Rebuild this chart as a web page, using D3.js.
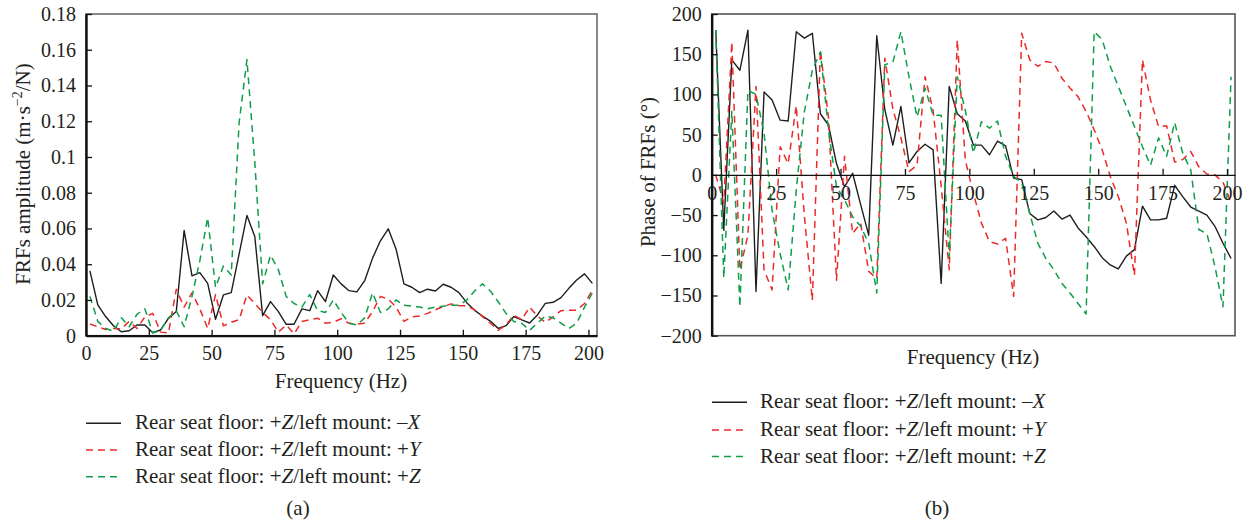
<!DOCTYPE html>
<html>
<head>
<meta charset="utf-8">
<script src="https://cdn.jsdelivr.net/npm/d3@7"></script>
<style>
  body { margin: 0; background: #fff; }
  svg, svg text { font-family: "Liberation Serif", "DejaVu Serif", serif; }
  svg { display: block; }
</style>
</head>
<body>
<svg id="chart" width="1247" height="527" font-family="Liberation Serif, DejaVu Serif, serif"></svg>
<script>
// Frequency lines of the FRF estimate (Hz)
const freqs = [1.5625, 4.6875, 7.8125, 10.9375, 14.0625, 17.1875, 20.3125, 23.4375, 26.5625, 29.6875,
  32.8125, 35.9375, 39.0625, 42.1875, 45.3125, 48.4375, 51.5625, 54.6875, 57.8125, 60.9375,
  64.0625, 67.1875, 70.3125, 73.4375, 76.5625, 79.6875, 82.8125, 85.9375, 89.0625, 92.1875,
  95.3125, 98.4375, 101.5625, 104.6875, 107.8125, 110.9375, 114.0625, 117.1875, 120.3125, 123.4375,
  126.5625, 129.6875, 132.8125, 135.9375, 139.0625, 142.1875, 145.3125, 148.4375, 151.5625, 154.6875,
  157.8125, 160.9375, 164.0625, 167.1875, 170.3125, 173.4375, 176.5625, 179.6875, 182.8125, 185.9375,
  189.0625, 192.1875, 195.3125, 198.4375, 201.5625];

// FRF amplitude, m·s^-2/N
const ampX = [0.0363, 0.0172, 0.0107, 0.0056, 0.0022, 0.0028, 0.006, 0.006, 0.0017, 0.0032,
  0.0097, 0.0135, 0.0589, 0.0335, 0.0353, 0.0293, 0.0092, 0.0228, 0.0241, 0.0456,
  0.0673, 0.0555, 0.0112, 0.0191, 0.0135, 0.0064, 0.0064, 0.015, 0.014, 0.0252,
  0.0191, 0.034, 0.029, 0.0252, 0.0245, 0.0308, 0.0434, 0.0531, 0.0598, 0.0484,
  0.029, 0.0271, 0.0241, 0.026, 0.025, 0.0288, 0.0271, 0.0241, 0.0185, 0.0142,
  0.011, 0.0082, 0.0041, 0.0056, 0.0107, 0.0088, 0.0071, 0.0116, 0.0181, 0.0187,
  0.0213, 0.0265, 0.0312, 0.0346, 0.0293];
const ampY = [0.0065, 0.005, 0.0035, 0.004, 0.0038, 0.008, 0.004, 0.0105, 0.0125, 0.002,
  0.0015, 0.026, 0.016, 0.024, 0.015, 0.004, 0.023, 0.0055, 0.0075, 0.009,
  0.0228, 0.018, 0.013, 0.009, 0.002, 0.006, 0.001, 0.008, 0.009, 0.0098,
  0.007, 0.0075, 0.0095, 0.0069, 0.0065, 0.007, 0.0135, 0.022, 0.0205, 0.016,
  0.008, 0.0105, 0.011, 0.0125, 0.0145, 0.0163, 0.0178, 0.0168, 0.0168, 0.0145,
  0.0107, 0.007, 0.003, 0.006, 0.0115, 0.009, 0.016, 0.011, 0.0075, 0.0105,
  0.014, 0.0143, 0.0143, 0.018, 0.0256];
const ampZ = [0.022, 0.008, 0.004, 0.0025, 0.010, 0.005, 0.012, 0.015, 0.0015, 0.003,
  0.010, 0.014, 0.005, 0.022, 0.042, 0.066, 0.027, 0.039, 0.034, 0.119,
  0.1545, 0.097, 0.029, 0.045, 0.037, 0.022, 0.018, 0.016, 0.023, 0.014,
  0.013, 0.020, 0.013, 0.007, 0.006, 0.010, 0.024, 0.013, 0.015, 0.020,
  0.017, 0.0165, 0.016, 0.015, 0.016, 0.0165, 0.017, 0.017, 0.020, 0.025,
  0.029, 0.025, 0.019, 0.0125, 0.008, 0.007, 0.003, 0.007, 0.011, 0.010,
  0.007, 0.004, 0.007, 0.016, 0.024];

// FRF phase, degrees
const phaseX = [180, -69, 143, 130, 180, -145, 103, 93, 68, 67,
  178, 170, 176, 76, 62, 14, -15, 2, -37, -75,
  173, 81, 37, 85, 15, 29, 38, 31, -135, 110,
  76, 67, 37, 37, 25, 42, 36, -4, -6, -48,
  -56, -53, -45, -55, -50, -66, -77, -89, -103, -112,
  -117, -101, -93, -39, -56, -56, -54, -13, -27, -40,
  -45, -50, -64, -85, -104];
const phaseY = [0, -35, 165, -118, -75, 110, -118, -143, 35, 14,
  86, -50, -156, 155, 72, -131, 23, -73, -60, -120,
  -129, 145, 82, 46, 4, 12, 122, 80, -14, -118,
  168, 18, -23, -60, -83, -86, -79, -151, 176, 143,
  135, 141, 139, 120, 108, 97, 79, 56, 31, -2,
  -27, -60, -125, 143, 93, 60, 61, 16, 19, 29,
  10, 1, 0, -9, -35];
const phaseZ = [180, -128, 79, -164, 105, 100, 52, -44, -98, -143,
  -19, 78, 130, 153, 56, -15, -31, -52, -64, -85,
  -147, 137, 140, 178, 122, 72, 108, 74, 74, -102,
  122, 80, 27, 66, 58, 67, 23, -2, -10, -48,
  -85, -104, -118, -135, -147, -160, -173, 178, 168, 135,
  110, 85, 60, 35, 12, 46, 23, 65, 27, 6,
  -68, -73, -114, -164, 122];

const freqTicks = [0, 25, 50, 75, 100, 125, 150, 175, 200];
const ampTicks = [0, 0.02, 0.04, 0.06, 0.08, 0.1, 0.12, 0.14, 0.16, 0.18];
const ampTickLabels = ["0", "0.02", "0.04", "0.06", "0.08", "0.1", "0.12", "0.14", "0.16", "0.18"];
const phaseTicks = [-200, -150, -100, -50, 0, 50, 100, 150, 200];
const phaseTickLabels = ["\u2212200", "\u2212150", "\u2212100", "\u221250", "0", "50", "100", "150", "200"];

// Legend entries: mount direction sign and axis letter
const legendSigns = ["\u2013", "+", "+"];
const legendAxes = ["X", "Y", "Z"];
const seriesColors = ["#1e1e1e", "#ec2a2a", "#0f9e4a"];
const seriesDash = [null, "7,5", "7,5"];

const FONT = "Liberation Serif, DejaVu Serif, serif";
const svg = d3.select("#chart");
const TICK_FONT = 20, TEXT_FONT = 21;

function styleAxis(g) {
  g.attr("font-size", TICK_FONT).attr("font-family", FONT);
  g.selectAll("text").attr("fill", "#231f20").attr("font-family", FONT);
  g.selectAll(".tick line").attr("stroke", "#111").attr("stroke-width", 1.3);
}

function label(g) {
  return g.append("text").attr("font-family", FONT).attr("font-size", TEXT_FONT).attr("fill", "#231f20");
}

function drawLines(g, x, y, seriesList, clipId) {
  const line = d3.line().x((d, i) => x(freqs[i])).y(d => y(d));
  const lg = g.append("g").attr("clip-path", `url(#${clipId})`);
  seriesList.forEach((vals, k) => {
    lg.append("path")
      .attr("d", line(vals))
      .attr("fill", "none")
      .attr("stroke", seriesColors[k])
      .attr("stroke-width", k === 0 ? 1.4 : 1.5)
      .attr("stroke-dasharray", seriesDash[k])
      .attr("stroke-linejoin", "round");
  });
}

function drawLegend(g, x0, x1, tx, rows) {
  rows.forEach((cy, k) => {
    g.append("line")
      .attr("x1", x0).attr("x2", x1).attr("y1", cy).attr("y2", cy)
      .attr("stroke", seriesColors[k]).attr("stroke-width", 1.4)
      .attr("stroke-dasharray", seriesDash[k]);
    const t = label(g).attr("x", tx).attr("y", cy + 6);
    t.append("tspan").text("Rear seat floor: +");
    t.append("tspan").attr("font-style", "italic").text("Z");
    t.append("tspan").text("/left mount: " + legendSigns[k]);
    t.append("tspan").attr("font-style", "italic").text(legendAxes[k]);
  });
}

const defs = svg.append("defs");

// ---------- (a) amplitude ----------
{
  const x = d3.scaleLinear().domain([0, 203.4]).range([86, 597]);
  const y = d3.scaleLinear().domain([0, 0.18]).range([335.7, 14]);
  const g = svg.append("g");
  defs.append("clipPath").attr("id", "clipA").append("rect")
    .attr("x", 86).attr("y", 14).attr("width", 511).attr("height", 321.7);

  g.append("rect").attr("x", 86).attr("y", 14).attr("width", 511).attr("height", 321.7)
    .attr("fill", "none").attr("stroke", "#6b6b6b").attr("stroke-width", 1.6);

  drawLines(g, x, y, [ampX, ampY, ampZ], "clipA");

  g.append("g").attr("transform", "translate(0,335.7)")
    .call(d3.axisBottom(x).tickValues(freqTicks).tickSizeInner(-6).tickSizeOuter(0).tickPadding(10))
    .call(styleAxis)
    .call(a => a.select(".domain").attr("stroke", "#111").attr("stroke-width", 2.2));

  g.append("g").attr("transform", "translate(86,0)")
    .call(d3.axisLeft(y).tickValues(ampTicks).tickFormat((d, i) => ampTickLabels[i])
      .tickSizeInner(-6).tickSizeOuter(0).tickPadding(10))
    .call(styleAxis)
    .call(a => a.select(".domain").attr("stroke", "#111").attr("stroke-width", 2.4));

  label(g).attr("x", 341).attr("y", 388).attr("text-anchor", "middle").text("Frequency (Hz)");

  const yt = label(g).attr("transform", "translate(30,174) rotate(-90)").attr("text-anchor", "middle");
  yt.append("tspan").text("FRFs amplitude (m\u00b7s");
  yt.append("tspan").attr("font-size", 14).attr("dy", -8).text("\u22122");
  yt.append("tspan").attr("dy", 8).text("/N)");

  drawLegend(g, 86, 121, 135, [423.3, 450, 476.7]);

  label(g).attr("x", 298).attr("y", 515).attr("text-anchor", "middle").text("(a)");
}

// ---------- (b) phase ----------
{
  const x = d3.scaleLinear().domain([0, 203.1]).range([711.7, 1235]);
  const y = d3.scaleLinear().domain([-200, 200]).range([335.7, 14]);
  const g = svg.append("g");
  defs.append("clipPath").attr("id", "clipB").append("rect")
    .attr("x", 711.7).attr("y", 14).attr("width", 523.3).attr("height", 321.7);

  g.append("rect").attr("x", 711.7).attr("y", 14).attr("width", 523.3).attr("height", 321.7)
    .attr("fill", "none").attr("stroke", "#555").attr("stroke-width", 1.6);

  drawLines(g, x, y, [phaseX, phaseY, phaseZ], "clipB");

  g.append("g").attr("transform", `translate(0,${y(0)})`)
    .call(d3.axisBottom(x).tickValues(freqTicks).tickSizeInner(-6).tickSizeOuter(0).tickPadding(11))
    .call(styleAxis)
    .call(a => a.select(".domain").attr("stroke", "#111").attr("stroke-width", 1.4));

  g.append("g").attr("transform", "translate(711.7,0)")
    .call(d3.axisLeft(y).tickValues(phaseTicks).tickFormat((d, i) => phaseTickLabels[i])
      .tickSizeInner(-6).tickSizeOuter(0).tickPadding(10))
    .call(styleAxis)
    .call(a => a.select(".domain").attr("stroke", "#111").attr("stroke-width", 2.4));

  label(g).attr("x", 973).attr("y", 364).attr("text-anchor", "middle").text("Frequency (Hz)");

  label(g).attr("transform", "translate(655,172) rotate(-90)").attr("text-anchor", "middle")
    .text("Phase of FRFs (\u00b0)");

  drawLegend(g, 712, 747, 760, [402.3, 430, 456.5]);

  label(g).attr("x", 937).attr("y", 515).attr("text-anchor", "middle").text("(b)");
}
</script>
</body>
</html>
